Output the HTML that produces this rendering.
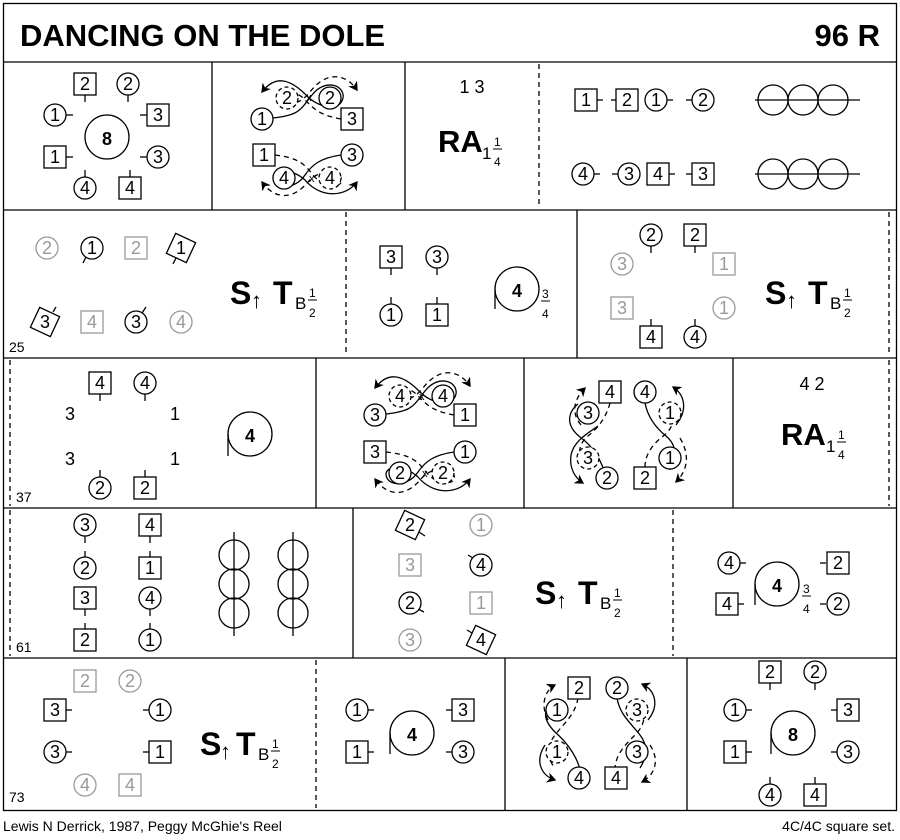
<!DOCTYPE html>
<html><head><meta charset="utf-8"><style>
html,body{margin:0;padding:0;background:#fff}
svg{display:block}
text{font-family:"Liberation Sans",sans-serif;fill:#000}
.d circle,.d rect{fill:#fff;stroke:#000;stroke-width:1.3}
.g circle,.g rect{stroke:#999}
.g text{fill:#999}
.l{stroke:#000;stroke-width:1.3;fill:none}
.ds{stroke-dasharray:5,4}
.n{font-size:18px;text-anchor:middle}
</style></head><body>
<svg width="900" height="840" viewBox="0 0 900 840" xmlns="http://www.w3.org/2000/svg">
<defs><marker id="a" markerWidth="8" markerHeight="8" refX="6" refY="4" orient="auto"><path d="M0,0 L7,4 L0,8 L2,4z" fill="#000"/></marker></defs>
<g class="l" stroke-width="1.5">
<rect x="3.5" y="3.5" width="893" height="807"/>
<line x1="3" y1="62" x2="897" y2="62"/><line x1="3" y1="210" x2="897" y2="210"/>
<line x1="3" y1="358" x2="897" y2="358"/><line x1="3" y1="508" x2="897" y2="508"/>
<line x1="3" y1="658" x2="897" y2="658"/>
<line x1="212" y1="62" x2="212" y2="210"/><line x1="405" y1="62" x2="405" y2="210"/>
<line x1="577" y1="210" x2="577" y2="358"/>
<line x1="316" y1="358" x2="316" y2="508"/><line x1="524" y1="358" x2="524" y2="508"/><line x1="733" y1="358" x2="733" y2="508"/>
<line x1="353" y1="508" x2="353" y2="658"/>
<line x1="505" y1="658" x2="505" y2="810"/><line x1="687" y1="658" x2="687" y2="810"/>
</g>
<g class="l ds">
<line x1="539" y1="64" x2="539" y2="208"/><line x1="346" y1="212" x2="346" y2="356"/><line x1="889" y1="212" x2="889" y2="356"/>
<line x1="10" y1="360" x2="10" y2="506"/><line x1="889" y1="360" x2="889" y2="506"/>
<line x1="10" y1="510" x2="10" y2="656"/><line x1="673" y1="510" x2="673" y2="656"/>
<line x1="316" y1="660" x2="316" y2="808"/>
</g>
<text x="20" y="46" font-size="31" font-weight="bold">DANCING ON THE DOLE</text>
<text x="880" y="46" font-size="31" font-weight="bold" text-anchor="end">96 R</text>

<!-- Row1 cell1 -->
<g class="d">
<g class="l"><line x1="85" y1="95" x2="85" y2="102"/><line x1="128" y1="95" x2="128" y2="102"/><line x1="66" y1="115" x2="73" y2="115"/><line x1="140" y1="115" x2="147" y2="115"/><line x1="66" y1="157" x2="73" y2="157"/><line x1="140" y1="157" x2="147" y2="157"/><line x1="85" y1="170" x2="85" y2="177"/><line x1="130" y1="170" x2="130" y2="177"/></g>
<rect x="74" y="73" width="22" height="22"/><text class="n" x="85" y="90">2</text>
<circle cx="128" cy="84" r="11"/><text class="n" x="128" y="90">2</text>
<circle cx="55" cy="115" r="11"/><text class="n" x="55" y="121">1</text>
<rect x="147" y="104" width="22" height="22"/><text class="n" x="158" y="121">3</text>
<circle cx="107" cy="137" r="22"/><text class="n" x="107" y="145" font-weight="bold" font-size="22">8</text>
<rect x="44" y="146" width="22" height="22"/><text class="n" x="55" y="163">1</text>
<circle cx="158" cy="157" r="11"/><text class="n" x="158" y="163">3</text>
<circle cx="85" cy="188" r="11"/><text class="n" x="85" y="194">4</text>
<rect x="119" y="177" width="22" height="22"/><text class="n" x="130" y="194">4</text>
</g>
<!-- Row1 cell2 -->
<g class="l">
<path d="M273,118 C300,115 300,110 312,95 C325,78 345,85 343,98 C340,112 320,108 308,97 C290,78 275,75 262,92" marker-end="url(#a)"/>
<path class="ds" d="M341,119 C320,115 315,110 305,100 C295,88 275,90 277,100 C280,110 300,105 310,92 C325,72 345,72 357,90" marker-end="url(#a)"/>
<path class="ds" d="M275,155 C300,158 305,165 313,175 C325,190 345,188 341,178 C338,168 318,170 308,182 C293,200 275,200 262,182" marker-end="url(#a)"/>
<path d="M341,155 C320,158 312,165 305,175 C295,190 275,190 273,178 C272,168 292,168 305,180 C320,198 345,198 357,182" marker-end="url(#a)"/>
</g>
<g class="d">
<circle cx="262" cy="119" r="11"/><text class="n" x="262" y="125">1</text>
<circle cx="287" cy="98" r="11" style="stroke-dasharray:4,3"/><text class="n" x="287" y="104">2</text>
<text x="306" y="101" font-size="11">x</text>
<circle cx="330" cy="98" r="11"/><text class="n" x="330" y="104">2</text>
<rect x="341" y="108" width="22" height="22"/><text class="n" x="352" y="125">3</text>
<rect x="253" y="144" width="22" height="22"/><text class="n" x="264" y="161">1</text>
<circle cx="352" cy="155" r="11"/><text class="n" x="352" y="161">3</text>
<circle cx="284" cy="178" r="11"/><text class="n" x="284" y="184">4</text>
<text x="309" y="182" font-size="11">x</text>
<circle cx="330" cy="178" r="11" style="stroke-dasharray:4,3"/><text class="n" x="330" y="184">4</text>
</g>
<!-- Row1 cell3 -->
<text x="472" y="93" font-size="18" text-anchor="middle">1 3</text>
<text x="438" y="152" font-size="31" font-weight="bold">RA</text>
<text x="482" y="159" font-size="17">1</text>
<text x="494" y="146" font-size="12">1</text><line x1="493" y1="149" x2="502" y2="149" stroke="#000"/><text x="494" y="166" font-size="12">4</text>
<!-- Row1 cell4 -->
<g class="d">
<g class="l"><line x1="597" y1="100" x2="603" y2="100"/><line x1="611" y1="100" x2="616" y2="100"/><line x1="667" y1="100" x2="673" y2="100"/><line x1="686" y1="100" x2="692" y2="100"/>
<line x1="594" y1="174" x2="600" y2="174"/><line x1="612" y1="174" x2="618" y2="174"/><line x1="669" y1="174" x2="675" y2="174"/><line x1="686" y1="174" x2="692" y2="174"/></g>
<rect x="575" y="89" width="22" height="22"/><text class="n" x="586" y="106">1</text>
<rect x="616" y="89" width="22" height="22"/><text class="n" x="627" y="106">2</text>
<circle cx="656" cy="100" r="11"/><text class="n" x="656" y="106">1</text>
<circle cx="703" cy="100" r="11"/><text class="n" x="703" y="106">2</text>
<circle cx="583" cy="174" r="11"/><text class="n" x="583" y="180">4</text>
<circle cx="629" cy="174" r="11"/><text class="n" x="629" y="180">3</text>
<rect x="647" y="163" width="22" height="22"/><text class="n" x="658" y="180">4</text>
<rect x="692" y="163" width="22" height="22"/><text class="n" x="703" y="180">3</text>
</g>
<g class="l"><circle cx="773" cy="100" r="15"/><circle cx="803" cy="100" r="15"/><circle cx="833" cy="100" r="15"/><line x1="755" y1="100" x2="860" y2="100"/>
<circle cx="773" cy="174" r="15"/><circle cx="803" cy="174" r="15"/><circle cx="833" cy="174" r="15"/><line x1="755" y1="174" x2="860" y2="174"/></g>

<!-- Row2 cell1 -->
<g class="d">
<g class="g"><circle cx="47" cy="248" r="11"/><text class="n" x="47" y="254">2</text>
<rect x="125" y="237" width="22" height="22"/><text class="n" x="136" y="254">2</text>
<rect x="81" y="311" width="22" height="22"/><text class="n" x="92" y="328">4</text>
<circle cx="181" cy="322" r="11"/><text class="n" x="181" y="328">4</text></g>
<line class="l" x1="86" y1="257" x2="83" y2="263"/>
<circle cx="92" cy="248" r="11"/><text class="n" x="92" y="254">1</text>
<line class="l" x1="176" y1="258" x2="173" y2="264"/>
<rect x="170" y="237" width="22" height="22" transform="rotate(25 181 248)"/><text class="n" x="181" y="254">1</text>
<line class="l" x1="53" y1="312" x2="56" y2="307"/>
<rect x="34" y="311" width="22" height="22" transform="rotate(25 45 322)"/><text class="n" x="45" y="328">3</text>
<line class="l" x1="142" y1="313" x2="146" y2="307"/>
<circle cx="136" cy="322" r="11"/><text class="n" x="136" y="328">3</text>
</g>
<text x="230" y="304" font-size="32" font-weight="bold">S</text><text x="251" y="308" font-size="22">↑</text>
<text x="273" y="304" font-size="32" font-weight="bold">T</text><text x="295" y="309" font-size="17">B</text>
<text x="309" y="297" font-size="12">1</text><line x1="308" y1="300" x2="317" y2="300" stroke="#000"/><text x="309" y="317" font-size="12">2</text>
<text x="9" y="352" font-size="14">25</text>
<!-- Row2 cell2 -->
<g class="d">
<g class="l"><line x1="391" y1="268" x2="391" y2="275"/><line x1="437" y1="268" x2="437" y2="275"/><line x1="391" y1="297" x2="391" y2="304"/><line x1="437" y1="297" x2="437" y2="304"/></g>
<rect x="380" y="246" width="22" height="22"/><text class="n" x="391" y="263">3</text>
<circle cx="437" cy="257" r="11"/><text class="n" x="437" y="263">3</text>
<circle cx="391" cy="315" r="11"/><text class="n" x="391" y="321">1</text>
<rect x="426" y="304" width="22" height="22"/><text class="n" x="437" y="321">1</text>
<circle cx="517" cy="289" r="22"/><line class="l" x1="495" y1="289" x2="495" y2="309"/><text class="n" x="517" y="297" font-weight="bold" font-size="22">4</text>
</g>
<text x="542" y="298" font-size="12">3</text><line x1="541" y1="301" x2="550" y2="301" stroke="#000"/><text x="542" y="318" font-size="12">4</text>
<!-- Row2 cell3 -->
<g class="d">
<g class="l"><line x1="651" y1="246" x2="651" y2="253"/><line x1="695" y1="246" x2="695" y2="253"/><line x1="651" y1="319" x2="651" y2="326"/><line x1="695" y1="319" x2="695" y2="326"/></g>
<circle cx="651" cy="235" r="11"/><text class="n" x="651" y="241">2</text>
<rect x="684" y="224" width="22" height="22"/><text class="n" x="695" y="241">2</text>
<g class="g"><circle cx="622" cy="264" r="11"/><text class="n" x="622" y="270">3</text>
<rect x="713" y="253" width="22" height="22"/><text class="n" x="724" y="270">1</text>
<rect x="611" y="297" width="22" height="22"/><text class="n" x="622" y="314">3</text>
<circle cx="724" cy="308" r="11"/><text class="n" x="724" y="314">1</text></g>
<rect x="640" y="326" width="22" height="22"/><text class="n" x="651" y="343">4</text>
<circle cx="695" cy="337" r="11"/><text class="n" x="695" y="343">4</text>
</g>
<text x="765" y="304" font-size="32" font-weight="bold">S</text><text x="786" y="308" font-size="22">↑</text>
<text x="808" y="304" font-size="32" font-weight="bold">T</text><text x="830" y="309" font-size="17">B</text>
<text x="844" y="297" font-size="12">1</text><line x1="843" y1="300" x2="852" y2="300" stroke="#000"/><text x="844" y="317" font-size="12">2</text>

<!-- Row3 cell1 -->
<g class="d">
<g class="l"><line x1="100" y1="394" x2="100" y2="401"/><line x1="145" y1="394" x2="145" y2="401"/><line x1="100" y1="470" x2="100" y2="477"/><line x1="145" y1="470" x2="145" y2="477"/></g>
<rect x="89" y="372" width="22" height="22"/><text class="n" x="100" y="389">4</text>
<circle cx="145" cy="383" r="11"/><text class="n" x="145" y="389">4</text>
<circle cx="100" cy="488" r="11"/><text class="n" x="100" y="494">2</text>
<rect x="134" y="477" width="22" height="22"/><text class="n" x="145" y="494">2</text>
<text class="n" x="70" y="420">3</text><text class="n" x="175" y="420">1</text>
<text class="n" x="70" y="465">3</text><text class="n" x="175" y="465">1</text>
<circle cx="250" cy="434" r="22"/><line class="l" x1="228" y1="434" x2="228" y2="456"/><text class="n" x="250" y="442" font-weight="bold" font-size="22">4</text>
</g>
<text x="16" y="502" font-size="14">37</text>
<!-- Row3 cell2 -->
<g class="l">
<path d="M386,414 C413,411 413,406 425,391 C438,374 458,381 456,394 C453,408 433,404 421,393 C403,374 388,371 375,388" marker-end="url(#a)"/>
<path class="ds" d="M454,415 C433,411 428,406 418,396 C408,384 388,386 390,396 C393,406 413,401 423,388 C438,368 458,368 470,386" marker-end="url(#a)"/>
<path class="ds" d="M386,452 C413,455 418,462 426,472 C438,487 458,485 454,475 C451,465 431,467 421,479 C406,497 388,497 375,479" marker-end="url(#a)"/>
<path d="M454,452 C433,455 425,462 418,472 C408,487 388,487 386,475 C385,465 405,465 418,477 C433,495 458,495 470,479" marker-end="url(#a)"/>
</g>
<g class="d">
<circle cx="400" cy="396" r="11" style="stroke-dasharray:4,3"/><text class="n" x="400" y="402">4</text>
<text x="419" y="400" font-size="11">x</text>
<circle cx="443" cy="396" r="11"/><text class="n" x="443" y="402">4</text>
<circle cx="375" cy="415" r="11"/><text class="n" x="375" y="421">3</text>
<rect x="454" y="404" width="22" height="22"/><text class="n" x="465" y="421">1</text>
<rect x="364" y="441" width="22" height="22"/><text class="n" x="375" y="458">3</text>
<circle cx="465" cy="452" r="11"/><text class="n" x="465" y="458">1</text>
<circle cx="400" cy="473" r="11"/><text class="n" x="400" y="479">2</text>
<text x="422" y="477" font-size="11">x</text>
<circle cx="443" cy="473" r="11" style="stroke-dasharray:4,3"/><text class="n" x="443" y="479">2</text>
</g>
<!-- Row3 cell3 -->
<g class="l">
<path d="M578,404 C568,412 565,425 580,437 C595,448 600,460 604,470"/>
<path d="M598,426 C590,432 574,440 571,455 C569,468 575,478 583,483" marker-end="url(#a)"/>
<path class="ds" d="M610,403 C606,418 598,428 588,436 C576,446 578,458 588,470"/>
<path class="ds" d="M581,425 C570,412 575,398 585,388" marker-end="url(#a)"/>
<path d="M645,403 C648,418 656,428 666,436 C678,446 676,458 670,470"/>
<path d="M676,425 C688,410 685,395 673,387" marker-end="url(#a)"/>
<path class="ds" d="M645,467 C645,455 652,445 662,437 C674,428 676,418 670,402"/>
<path class="ds" d="M680,438 C690,455 688,470 676,482" marker-end="url(#a)"/>
</g>
<g class="d">
<rect x="599" y="381" width="22" height="22"/><text class="n" x="610" y="398">4</text>
<circle cx="645" cy="392" r="11"/><text class="n" x="645" y="398">4</text>
<circle cx="588" cy="413" r="11"/><text class="n" x="588" y="419">3</text>
<circle cx="670" cy="413" r="11" style="stroke-dasharray:4,3"/><text class="n" x="670" y="419">1</text>
<circle cx="588" cy="458" r="11" style="stroke-dasharray:4,3"/><text class="n" x="588" y="464">3</text>
<circle cx="670" cy="458" r="11"/><text class="n" x="670" y="464">1</text>
<circle cx="607" cy="478" r="11"/><text class="n" x="607" y="484">2</text>
<rect x="634" y="467" width="22" height="22"/><text class="n" x="645" y="484">2</text>
</g>
<!-- Row3 cell4 -->
<text x="812" y="390" font-size="18" text-anchor="middle">4 2</text>
<text x="781" y="445" font-size="31" font-weight="bold">RA</text>
<text x="826" y="452" font-size="17">1</text>
<text x="838" y="439" font-size="12">1</text><line x1="837" y1="442" x2="846" y2="442" stroke="#000"/><text x="838" y="459" font-size="12">4</text>

<!-- Row4 cell1 -->
<g class="d">
<g class="l"><line x1="85" y1="536" x2="85" y2="543"/><line x1="85" y1="551" x2="85" y2="557"/><line x1="85" y1="609" x2="85" y2="616"/><line x1="85" y1="623" x2="85" y2="629"/>
<line x1="150" y1="536" x2="150" y2="543"/><line x1="150" y1="551" x2="150" y2="557"/><line x1="150" y1="609" x2="150" y2="616"/><line x1="150" y1="623" x2="150" y2="629"/></g>
<circle cx="85" cy="525" r="11"/><text class="n" x="85" y="531">3</text>
<circle cx="85" cy="568" r="11"/><text class="n" x="85" y="574">2</text>
<rect x="74" y="587" width="22" height="22"/><text class="n" x="85" y="604">3</text>
<rect x="74" y="629" width="22" height="22"/><text class="n" x="85" y="646">2</text>
<rect x="139" y="514" width="22" height="22"/><text class="n" x="150" y="531">4</text>
<rect x="139" y="557" width="22" height="22"/><text class="n" x="150" y="574">1</text>
<circle cx="150" cy="598" r="11"/><text class="n" x="150" y="604">4</text>
<circle cx="150" cy="640" r="11"/><text class="n" x="150" y="646">1</text>
</g>
<g class="l"><circle cx="234" cy="555" r="15"/><circle cx="234" cy="584" r="15"/><circle cx="234" cy="613" r="15"/><line x1="234" y1="532" x2="234" y2="636"/>
<circle cx="293" cy="555" r="15"/><circle cx="293" cy="584" r="15"/><circle cx="293" cy="613" r="15"/><line x1="293" y1="532" x2="293" y2="636"/></g>
<text x="16" y="652" font-size="14">61</text>
<!-- Row4 cell2 -->
<g class="d">
<line class="l" x1="419" y1="532" x2="425" y2="536"/>
<rect x="399" y="514" width="22" height="22" transform="rotate(25 410 525)"/><text class="n" x="410" y="531">2</text>
<line class="l" x1="418" y1="609" x2="424" y2="612"/>
<circle cx="410" cy="603" r="11"/><text class="n" x="410" y="609">2</text>
<line class="l" x1="473" y1="558" x2="468" y2="555"/>
<circle cx="481" cy="565" r="11"/><text class="n" x="481" y="571">4</text>
<line class="l" x1="472" y1="633" x2="467" y2="630"/>
<rect x="470" y="629" width="22" height="22" transform="rotate(25 481 640)"/><text class="n" x="481" y="646">4</text>
<g class="g"><circle cx="481" cy="525" r="11"/><text class="n" x="481" y="531">1</text>
<rect x="399" y="554" width="22" height="22"/><text class="n" x="410" y="571">3</text>
<rect x="470" y="592" width="22" height="22"/><text class="n" x="481" y="609">1</text>
<circle cx="410" cy="640" r="11"/><text class="n" x="410" y="646">3</text></g>
</g>
<text x="535" y="604" font-size="32" font-weight="bold">S</text><text x="556" y="608" font-size="22">↑</text>
<text x="578" y="604" font-size="32" font-weight="bold">T</text><text x="600" y="609" font-size="17">B</text>
<text x="614" y="597" font-size="12">1</text><line x1="613" y1="600" x2="622" y2="600" stroke="#000"/><text x="614" y="617" font-size="12">2</text>
<!-- Row4 cell3 -->
<g class="d">
<g class="l"><line x1="740" y1="563" x2="746" y2="563"/><line x1="820" y1="563" x2="826" y2="563"/><line x1="738" y1="604" x2="744" y2="604"/><line x1="820" y1="604" x2="826" y2="604"/></g>
<circle cx="729" cy="563" r="11"/><text class="n" x="729" y="569">4</text>
<rect x="827" y="552" width="22" height="22"/><text class="n" x="838" y="569">2</text>
<rect x="716" y="593" width="22" height="22"/><text class="n" x="727" y="610">4</text>
<circle cx="838" cy="604" r="11"/><text class="n" x="838" y="610">2</text>
<circle cx="777" cy="584" r="22"/><line class="l" x1="755" y1="584" x2="755" y2="605"/><text class="n" x="777" y="592" font-weight="bold" font-size="22">4</text>
</g>
<text x="803" y="593" font-size="12">3</text><line x1="802" y1="596" x2="811" y2="596" stroke="#000"/><text x="803" y="613" font-size="12">4</text>

<!-- Row5 cell1 -->
<g class="d">
<g class="g"><rect x="74" y="670" width="22" height="22"/><text class="n" x="85" y="687">2</text>
<circle cx="130" cy="681" r="11"/><text class="n" x="130" y="687">2</text>
<circle cx="85" cy="785" r="11"/><text class="n" x="85" y="791">4</text>
<rect x="119" y="774" width="22" height="22"/><text class="n" x="130" y="791">4</text></g>
<g class="l"><line x1="66" y1="710" x2="72" y2="710"/><line x1="143" y1="710" x2="149" y2="710"/><line x1="66" y1="752" x2="72" y2="752"/><line x1="143" y1="752" x2="149" y2="752"/></g>
<rect x="44" y="699" width="22" height="22"/><text class="n" x="55" y="716">3</text>
<circle cx="160" cy="710" r="11"/><text class="n" x="160" y="716">1</text>
<circle cx="55" cy="752" r="11"/><text class="n" x="55" y="758">3</text>
<rect x="149" y="741" width="22" height="22"/><text class="n" x="160" y="758">1</text>
</g>
<text x="200" y="755" font-size="32" font-weight="bold">S</text><text x="220" y="759" font-size="22">↑</text>
<text x="236" y="755" font-size="32" font-weight="bold">T</text><text x="258" y="760" font-size="17">B</text>
<text x="272" y="748" font-size="12">1</text><line x1="271" y1="751" x2="280" y2="751" stroke="#000"/><text x="272" y="768" font-size="12">2</text>
<text x="9" y="802" font-size="14">73</text>
<!-- Row5 cell2 -->
<g class="d">
<g class="l"><line x1="368" y1="710" x2="374" y2="710"/><line x1="446" y1="710" x2="452" y2="710"/><line x1="368" y1="752" x2="374" y2="752"/><line x1="446" y1="752" x2="452" y2="752"/></g>
<circle cx="357" cy="710" r="11"/><text class="n" x="357" y="716">1</text>
<rect x="452" y="699" width="22" height="22"/><text class="n" x="463" y="716">3</text>
<rect x="346" y="741" width="22" height="22"/><text class="n" x="357" y="758">1</text>
<circle cx="463" cy="752" r="11"/><text class="n" x="463" y="758">3</text>
<circle cx="412" cy="733" r="22"/><line class="l" x1="390" y1="733" x2="390" y2="754"/><text class="n" x="412" y="741" font-weight="bold" font-size="22">4</text>
</g>
<!-- Row5 cell3 -->
<g class="l">
<path class="ds" d="M578,698 C575,715 565,722 555,735 C545,748 548,760 555,768"/>
<path d="M555,700 C540,710 545,722 555,732 C570,745 578,760 580,770"/>
<path class="ds" d="M548,720 C540,705 545,690 555,685" marker-end="url(#a)"/>
<path d="M545,745 C535,760 540,775 555,780" marker-end="url(#a)"/>
<path d="M617,698 C620,715 630,722 640,735 C650,748 645,760 640,768"/>
<path class="ds" d="M615,770 C615,755 625,745 635,735 C648,722 645,710 637,700"/>
<path d="M648,720 C660,705 655,690 642,684" marker-end="url(#a)"/>
<path class="ds" d="M650,745 C660,760 655,775 642,782" marker-end="url(#a)"/>
</g>
<g class="d">
<rect x="568" y="677" width="22" height="22"/><text class="n" x="579" y="694">2</text>
<circle cx="617" cy="688" r="11"/><text class="n" x="617" y="694">2</text>
<circle cx="557" cy="710" r="11"/><text class="n" x="557" y="716">1</text>
<circle cx="637" cy="710" r="11" style="stroke-dasharray:4,3"/><text class="n" x="637" y="716">3</text>
<circle cx="557" cy="752" r="11" style="stroke-dasharray:4,3"/><text class="n" x="557" y="758">1</text>
<circle cx="637" cy="752" r="11"/><text class="n" x="637" y="758">3</text>
<circle cx="579" cy="778" r="11"/><text class="n" x="579" y="784">4</text>
<rect x="605" y="767" width="22" height="22"/><text class="n" x="616" y="784">4</text>
</g>
<!-- Row5 cell4 -->
<g class="d">
<g class="l"><line x1="770" y1="683" x2="770" y2="690"/><line x1="815" y1="683" x2="815" y2="690"/><line x1="746" y1="710" x2="752" y2="710"/><line x1="831" y1="710" x2="837" y2="710"/><line x1="746" y1="752" x2="752" y2="752"/><line x1="831" y1="752" x2="837" y2="752"/><line x1="770" y1="777" x2="770" y2="784"/><line x1="815" y1="777" x2="815" y2="784"/></g>
<rect x="759" y="661" width="22" height="22"/><text class="n" x="770" y="678">2</text>
<circle cx="815" cy="672" r="11"/><text class="n" x="815" y="678">2</text>
<circle cx="735" cy="710" r="11"/><text class="n" x="735" y="716">1</text>
<rect x="837" y="699" width="22" height="22"/><text class="n" x="848" y="716">3</text>
<rect x="724" y="741" width="22" height="22"/><text class="n" x="735" y="758">1</text>
<circle cx="848" cy="752" r="11"/><text class="n" x="848" y="758">3</text>
<circle cx="770" cy="795" r="11"/><text class="n" x="770" y="801">4</text>
<rect x="804" y="784" width="22" height="22"/><text class="n" x="815" y="801">4</text>
<circle cx="793" cy="733" r="22"/><line class="l" x1="771" y1="733" x2="771" y2="754"/><text class="n" x="793" y="741" font-weight="bold" font-size="22">8</text>
</g>
<text x="3" y="831" font-size="14">Lewis N Derrick, 1987, Peggy McGhie's Reel</text>
<text x="895" y="831" font-size="14" text-anchor="end">4C/4C  square set.</text>
</svg>
</body></html>
